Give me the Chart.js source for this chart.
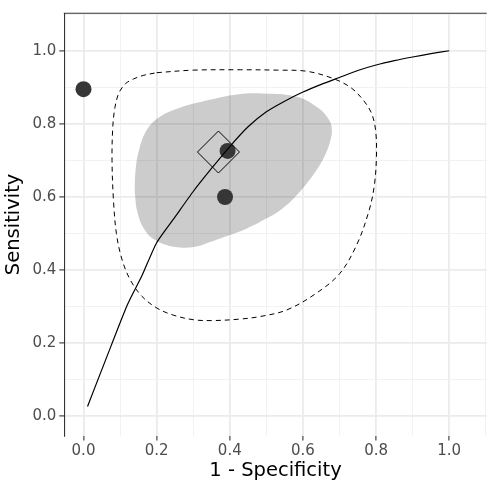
<!DOCTYPE html>
<html>
<head>
<meta charset="utf-8">
<script src="https://cdn.jsdelivr.net/npm/chart.js@4.4.1/dist/chart.umd.min.js"></script>
<style>
  html, body { margin: 0; padding: 0; background: #ffffff; }
  #wrap { width: 495px; height: 495px; }
</style>
</head>
<body>
<div id="wrap"><canvas id="c" width="495" height="495"></canvas></div>
<script>
// ---- data ----
const curveFPR  = [0.011, 0.06, 0.12, 0.16, 0.20, 0.25, 0.30, 0.35, 0.40, 0.45, 0.50, 0.55, 0.60, 0.65, 0.70, 0.75, 0.80, 0.85, 0.90, 0.95, 1.00];
const curveSens = [0.027, 0.153, 0.305, 0.385, 0.475, 0.545, 0.615, 0.678, 0.738, 0.792, 0.833, 0.862, 0.887, 0.908, 0.927, 0.946, 0.961, 0.973, 0.983, 0.992, 1.00];

const confFPR  = [0.140, 0.142, 0.151, 0.172, 0.205, 0.260, 0.342, 0.415, 0.492, 0.583, 0.638, 0.669, 0.679, 0.674, 0.656, 0.628, 0.583, 0.538, 0.492, 0.447, 0.400, 0.350, 0.306, 0.251, 0.196, 0.165, 0.147, 0.140];
const confSens = [0.614, 0.669, 0.725, 0.782, 0.817, 0.843, 0.865, 0.880, 0.883, 0.874, 0.846, 0.815, 0.787, 0.751, 0.705, 0.660, 0.605, 0.564, 0.537, 0.514, 0.496, 0.478, 0.464, 0.463, 0.482, 0.514, 0.560, 0.614];

const predFPR  = [0.20, 0.30, 0.43, 0.53, 0.61, 0.68, 0.73, 0.765, 0.788, 0.799, 0.801, 0.795, 0.780, 0.747, 0.701, 0.637, 0.556, 0.483, 0.428, 0.356, 0.302, 0.245, 0.201, 0.160, 0.128, 0.105, 0.090, 0.082, 0.078, 0.080, 0.086, 0.097, 0.115, 0.137, 0.165, 0.20];
const predSens = [0.940, 0.947, 0.948, 0.947, 0.944, 0.925, 0.900, 0.865, 0.828, 0.780, 0.710, 0.630, 0.560, 0.469, 0.391, 0.337, 0.291, 0.273, 0.266, 0.262, 0.264, 0.277, 0.296, 0.328, 0.373, 0.430, 0.500, 0.590, 0.700, 0.790, 0.845, 0.885, 0.910, 0.923, 0.933, 0.940];

const studyFPR  = [0.000, 0.394, 0.387];
const studySens = [0.895, 0.726, 0.600];

const summaryFPR  = [0.369];
const summarySens = [0.723];

const tickValues = [0.0, 0.1, 0.2, 0.3, 0.4, 0.5, 0.6, 0.7, 0.8, 0.9, 1.0, 1.1];
const axisMin = -0.0525, axisMax = 1.1025;
const xTitle = '1 - Specificity';
const yTitle = 'Sensitivity';

// ---- helpers ----
const pts = (xs, ys) => xs.map((x, i) => ({ x: x, y: ys[i] }));
const isMajor = v => Math.abs(Math.round(v * 10) % 2) === 0;
const tickVal = ctx => (ctx && ctx.tick) ? ctx.tick.value : 0;

const FONT = '"DejaVu Sans", "Noto Sans", sans-serif';

const topBorder = {
  id: 'topBorder',
  afterDraw(chart) {
    const a = chart.chartArea, c = chart.ctx;
    c.save();
    c.strokeStyle = '#333333';
    c.lineWidth = 1.1;
    c.beginPath();
    c.moveTo(a.left - 0.5, a.top);
    c.lineTo(a.right, a.top);
    c.stroke();
    c.restore();
  }
};

function scaleOpts(isX) {
  return {
    type: 'linear',
    min: axisMin,
    max: axisMax,
    afterBuildTicks: s => { s.ticks = tickValues.map(v => ({ value: v })); },
    afterFit: s => {
      if (isX) s.height = 59.5; else s.width = 64.3;
      s.paddingLeft = 0; s.paddingRight = 0; s.paddingTop = 0; s.paddingBottom = 0;
    },
    border: isX ? { display: false } : { display: true, color: '#333333', width: 1.1 },
    grid: {
      color: ctx => isMajor(tickVal(ctx)) ? '#EBEBEB' : '#F1F1F1',
      lineWidth: ctx => isMajor(tickVal(ctx)) ? 1.8 : 0.9,
      drawTicks: true,
      tickLength: 5,
      tickColor: ctx => isMajor(tickVal(ctx)) ? '#333333' : 'rgba(0,0,0,0)',
      tickWidth: 1.1
    },
    ticks: {
      autoSkip: false,
      maxRotation: 0,
      minRotation: 0,
      padding: isX ? 2 : 3,
      color: '#4D4D4D',
      font: { family: FONT, size: 15 },
      callback: v => isMajor(v) ? Number(v).toFixed(1) : ''
    },
    title: {
      display: true,
      text: isX ? xTitle : yTitle,
      color: '#000000',
      font: { family: FONT, size: 19.5 },
      padding: isX ? { top: 0, bottom: 12.5 } : { top: 2.3, bottom: 0 }
    }
  };
}

new Chart(document.getElementById('c'), {
  type: 'scatter',
  data: {
    datasets: [
      {
        label: 'confidence region',
        data: pts(confFPR, confSens),
        showLine: true,
        fill: 'shape',
        backgroundColor: 'rgba(0,0,0,0.2)',
        borderWidth: 0,
        borderColor: 'rgba(0,0,0,0)',
        pointRadius: 0,
        tension: 0.4,
        order: 6
      },
      {
        label: 'prediction region',
        data: pts(predFPR, predSens),
        showLine: true,
        fill: false,
        borderColor: '#000000',
        borderWidth: 1,
        borderDash: [5, 4],
        pointRadius: 0,
        tension: 0.35,
        order: 5
      },
      {
        label: 'studies',
        data: pts(studyFPR, studySens),
        showLine: false,
        pointStyle: 'circle',
        pointRadius: 8,
        pointBackgroundColor: '#363636',
        pointBorderColor: '#363636',
        pointBorderWidth: 0,
        order: 4
      },
      {
        label: 'SROC curve',
        data: pts(curveFPR, curveSens),
        showLine: true,
        fill: false,
        borderColor: '#000000',
        borderWidth: 1.2,
        pointRadius: 0,
        tension: 0.2,
        order: 3
      },
      {
        label: 'summary',
        data: pts(summaryFPR, summarySens),
        showLine: false,
        pointStyle: 'rectRot',
        pointRadius: 21,
        pointBackgroundColor: 'rgba(0,0,0,0)',
        pointBorderColor: '#000000',
        pointBorderWidth: 1,
        order: 2
      }
    ]
  },
  options: {
    responsive: false,
    animation: false,
    devicePixelRatio: 1,
    layout: { autoPadding: false, padding: { left: 0, right: 8.3, top: 13.3, bottom: 0 } },
    plugins: {
      legend: { display: false },
      tooltip: { enabled: false }
    },
    elements: { point: { hoverRadius: 0 } },
    scales: {
      x: scaleOpts(true),
      y: scaleOpts(false)
    }
  },
  plugins: [topBorder]
});
</script>
</body>
</html>
